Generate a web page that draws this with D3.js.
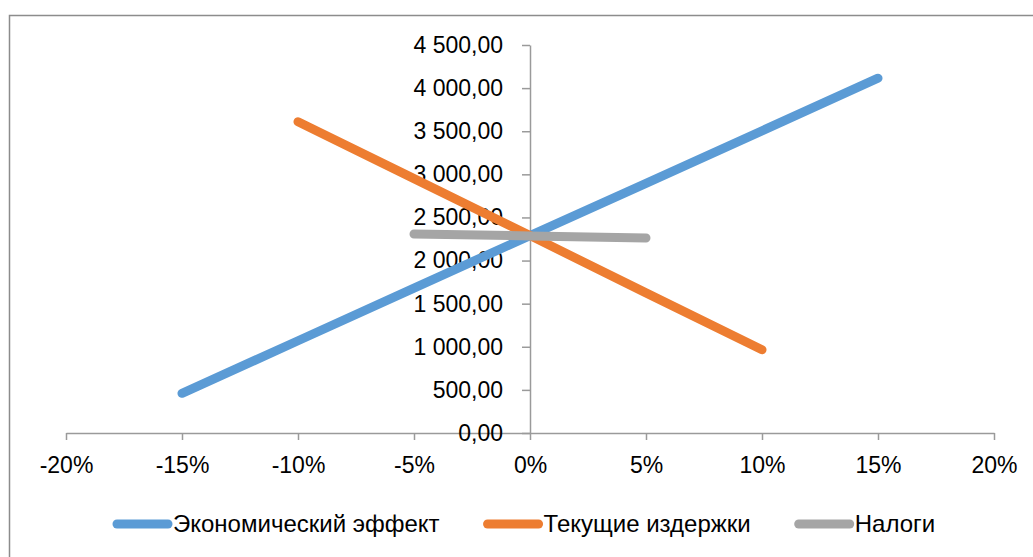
<!DOCTYPE html>
<html>
<head>
<meta charset="utf-8">
<script src="https://cdn.jsdelivr.net/npm/d3@7"></script>
<style>
  html, body { margin: 0; padding: 0; background: #fff; }
  svg { display: block; }
  text { font-family: "Liberation Sans", Arial, sans-serif; fill: #000; }
</style>
</head>
<body>
<svg id="chart" width="1033" height="557"></svg>
<script>
// Change of the parameter (share) and the resulting values per series
const xTicks = [-0.20, -0.15, -0.10, -0.05, 0, 0.05, 0.10, 0.15, 0.20];
const yTicks = [0, 500, 1000, 1500, 2000, 2500, 3000, 3500, 4000, 4500];

const effectX = [-0.15, -0.10, -0.05, 0, 0.05, 0.10, 0.15];
const effectY = [460, 1070, 1680, 2290, 2895, 3505, 4115];

const costsX = [-0.10, -0.05, 0, 0.05, 0.10];
const costsY = [3610, 2950, 2290, 1625, 965];

const taxesX = [-0.05, 0, 0.05];
const taxesY = [2308, 2286, 2262];

const seriesNames = ["Экономический эффект", "Текущие издержки", "Налоги"];
const seriesColors = ["#5B9BD5", "#ED7D31", "#A5A5A5"];

const series = [
  { name: seriesNames[0], color: seriesColors[0], pts: effectX.map((x, i) => [x, effectY[i]]) },
  { name: seriesNames[1], color: seriesColors[1], pts: costsX.map((x, i) => [x, costsY[i]]) },
  { name: seriesNames[2], color: seriesColors[2], pts: taxesX.map((x, i) => [x, taxesY[i]]) }
];

const svg = d3.select("#chart");

// chart frame
svg.append("rect")
  .attr("x", 9.5).attr("y", 15.5)
  .attr("width", 1040).attr("height", 560)
  .attr("fill", "none").attr("stroke", "#8c8c8c").attr("stroke-width", 1.5);

const x = d3.scaleLinear().domain([-0.2, 0.2]).range([66, 994]);
const y = d3.scaleLinear().domain([0, 4500]).range([433, 45]);

// hyphen-minus and space/comma separators, as in the labels
const fmtPct = d => d3.format(".0f")(d * 100).replace("\u2212", "-") + "%";
const fmtNum = d => d3.format(",.2f")(d).replace(/,/g, " ").replace(".", ",");

const axisColor = "#9a9a9a";

// x axis along value 0
const gx = svg.append("g")
  .attr("transform", `translate(0,${y(0)})`)
  .call(d3.axisBottom(x).tickValues(xTicks).tickFormat(fmtPct).tickSize(7).tickPadding(17).tickSizeOuter(0));
gx.select(".domain").attr("stroke", axisColor).attr("stroke-width", 1.5);
gx.selectAll(".tick line").attr("stroke", axisColor).attr("stroke-width", 1.5);
gx.selectAll(".tick text").style("font-size", "23px").attr("fill", "#000");

// y axis at x = 0
const gy = svg.append("g")
  .attr("transform", `translate(${x(0)},0)`)
  .call(d3.axisLeft(y).tickValues(yTicks).tickFormat(fmtNum).tickSize(8).tickPadding(19).tickSizeOuter(0));
gy.select(".domain").attr("stroke", axisColor).attr("stroke-width", 1.5);
gy.selectAll(".tick line").attr("stroke", axisColor).attr("stroke-width", 1.5);
gy.selectAll(".tick text").style("font-size", "23px").attr("fill", "#000");

// series lines
const line = d3.line().x(d => x(d[0])).y(d => y(d[1]));
svg.append("g").selectAll("path")
  .data(series)
  .join("path")
  .attr("d", d => line(d.pts))
  .attr("fill", "none")
  .attr("stroke", d => d.color)
  .attr("stroke-width", 9)
  .attr("stroke-linecap", "round")
  .attr("stroke-linejoin", "round");

// legend
const legend = svg.append("g");
let lx = 117;
const ly = 524;
series.forEach(s => {
  legend.append("line")
    .attr("x1", lx).attr("x2", lx + 51)
    .attr("y1", ly).attr("y2", ly)
    .attr("stroke", s.color).attr("stroke-width", 9).attr("stroke-linecap", "round");
  const t = legend.append("text")
    .attr("x", lx + 56).attr("y", ly)
    .attr("dy", "0.35em")
    .style("font-size", "24px")
    .text(s.name);
  lx += 56 + t.node().getComputedTextLength() + 48;
});
</script>
</body>
</html>
